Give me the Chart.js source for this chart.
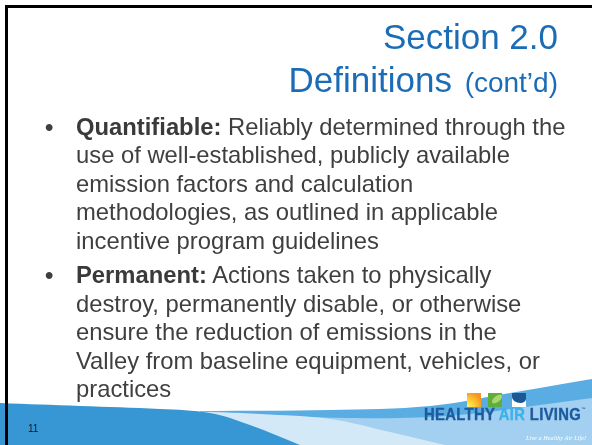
<!DOCTYPE html>
<html>
<head>
<meta charset="utf-8">
<script src="https://cdn.jsdelivr.net/npm/chart.js@4/dist/chart.umd.min.js"></script>
<style>
  html, body { margin: 0; padding: 0; background: #fff; }
  #slide { position: relative; width: 592px; height: 445px; overflow: hidden; background: #fff;
           font-family: "Liberation Sans", Arial, sans-serif; }
  #swoosh { position: absolute; left: 0; top: 0; }
  .border-top { position: absolute; left: 5px; top: 5px; width: 600px; height: 2.7px; background: #000; }
  .border-left { position: absolute; left: 5px; top: 5px; width: 2.7px; height: 460px; background: #000; }
  .title { position: absolute; right: 34px; color: #1b6cb7; font-size: 35px; line-height: 40px; white-space: nowrap; }
  .title small { font-size: 28px; margin-left: 3px; }
  .body { position: absolute; left: 76px; color: #3f3f3f; font-size: 23.8px; line-height: 28.5px; white-space: nowrap; }
  .body b { color: #3a3a3a; }
  .bullet { position: absolute; left: -31px; top: 0; font-weight: bold; }
  .pageno { position: absolute; left: 28px; top: 423px; font-size: 10px; color: #151515; }
  .logo-sq { position: absolute; top: 393px; width: 14px; height: 14px; overflow: hidden; }
  .sun { left: 467px; background: radial-gradient(circle at 0% 100%, #fff36a 0%, #ffd23a 35%, #f7941d 80%); }
  .leaf { left: 488px; background: #5fae3c; }
  .leaf i { position: absolute; left: 3px; top: 3px; width: 12px; height: 6px; border-radius: 50%;
            background: #a8d86a; transform: rotate(-40deg); }
  .cloud { left: 512px; background: #fff; }
  .cloud i { position: absolute; left: 0; top: 0; width: 14px; height: 10px; background: #1f5796;
             border-radius: 0 0 40% 60%; }
  .brand { position: absolute; left: 424px; top: 405px; font-size: 17px; font-weight: bold; color: #1d5ba0;
           letter-spacing: 0.4px; transform: scaleX(0.87); transform-origin: left top; white-space: nowrap;
           -webkit-text-stroke: 0.4px currentColor; }
  .brand span { color: #3cb2ea; }
  .brand sup { font-size: 5px; vertical-align: 9px; -webkit-text-stroke: 0; }
  .tagline { position: absolute; left: 526px; top: 434px; font-family: "Liberation Serif", serif; font-style: italic;
             font-size: 6.3px; color: #ffffff; white-space: nowrap; }
</style>
</head>
<body>
<div id="slide">
  <canvas id="swoosh" width="592" height="445"></canvas>
  <div class="border-top"></div>
  <div class="border-left"></div>

  <div class="title" style="top:17px">Section 2.0</div>
  <div class="title" style="top:60px">Definitions <small>(cont’d)</small></div>

  <div class="body" style="top:112.5px">
    <span class="bullet">•</span>
    <b>Quantifiable:</b> Reliably determined through the<br>
    use of well-established, publicly available<br>
    emission factors and calculation<br>
    methodologies, as outlined in applicable<br>
    incentive program guidelines
  </div>
  <div class="body" style="top:261px">
    <span class="bullet">•</span>
    <b>Permanent:</b> Actions taken to physically<br>
    destroy, permanently disable, or otherwise<br>
    ensure the reduction of emissions in the<br>
    Valley from baseline equipment, vehicles, or<br>
    practices
  </div>

  <div class="pageno">11</div>
  <div class="logo-sq sun"></div>
  <div class="logo-sq leaf"><i></i></div>
  <div class="logo-sq cloud"><i></i></div>
  <div class="brand">HEALTHY <span>AIR</span> LIVING<sup>™</sup></div>
  <div class="tagline">Live a Healthy Air Life!</div>
</div>

<script>
  /* ── Bandas da faixa inferior (x, y em px do slide) ── */
  const darkBandX  = [0, 80, 160, 210, 250, 300];
  const darkBandY  = [403, 406, 409, 413, 425, 445];
  const paleBandX  = [185, 260, 330, 390, 445];
  const paleBandY  = [411, 414, 419, 432, 445];
  const lightBandX = [290, 400, 470, 540, 592];
  const lightBandY = [417, 418, 414, 405, 398];
  const midBandX   = [200, 330, 430, 510, 592];
  const midBandY   = [411, 410, 406, 393, 379];

  function pontos(xs, ys) {
    return xs.map((x, i) => ({ x, y: ys[i] }));
  }

  function banda(xs, ys, cor, ordem) {
    return {
      data: pontos(xs, ys),
      backgroundColor: cor,
      borderColor: cor,
      borderWidth: 0,
      pointRadius: 0,
      tension: 0.35,
      fill: { value: 445 },
      order: ordem
    };
  }

  new Chart(document.getElementById('swoosh'), {
    type: 'line',
    data: {
      datasets: [
        banda(darkBandX, darkBandY, '#3797d4', 0),
        banda(paleBandX, paleBandY, '#d4e9f8', 1),
        banda(lightBandX, lightBandY, '#a3d0f0', 2),
        banda(midBandX, midBandY, '#5aade2', 3)
      ]
    },
    options: {
      responsive: false,
      animation: false,
      layout: { padding: 0 },
      plugins: {
        legend: { display: false },
        tooltip: { enabled: false }
      },
      scales: {
        x: { type: 'linear', min: 0, max: 592, display: false },
        y: { min: 0, max: 445, reverse: true, display: false }
      }
    }
  });
</script>
</body>
</html>
